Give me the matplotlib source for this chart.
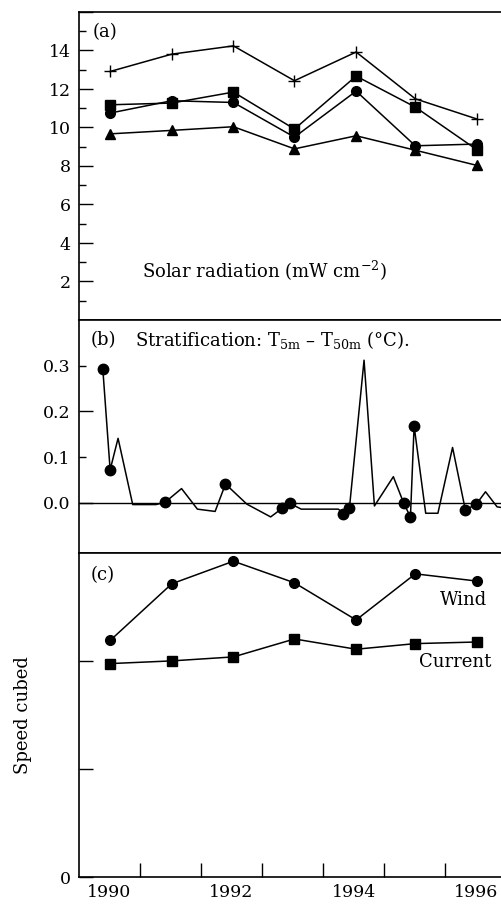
import matplotlib
matplotlib.use("Agg")
import matplotlib.pyplot as plt

plt.rcParams['font.family'] = ['DejaVu Serif']
plt.rcParams['mathtext.fontset'] = 'dejavuserif'
plt.rcParams['font.size'] = 13

# Annual means, plotted at mid-year
years = [1990.51, 1991.52, 1992.53, 1993.53, 1994.54, 1995.51, 1996.52]

# (a) solar radiation, four series
solar_plus = [12.91, 13.81, 14.24, 12.43, 13.92, 11.49, 10.44]
solar_square = [11.18, 11.27, 11.84, 9.92, 12.67, 11.06, 8.84]
solar_circle = [10.75, 11.39, 11.30, 9.50, 11.89, 9.05, 9.14]
solar_triangle = [9.67, 9.85, 10.04, 8.89, 9.57, 8.82, 8.03]

# (b) stratification T5m - T50m
strat_x = [1990.39, 1990.51, 1990.64, 1990.88, 1991.26, 1991.41, 1991.68, 1991.94,
           1992.23, 1992.40, 1992.75, 1993.14, 1993.33, 1993.45, 1993.64, 1994.25,
           1994.33, 1994.43, 1994.67, 1994.84, 1995.15, 1995.32, 1995.43, 1995.49,
           1995.68, 1995.88, 1996.12, 1996.33, 1996.51, 1996.66, 1996.85, 1996.95]
strat_y = [0.293, 0.072, 0.141, -0.004, -0.004, 0.001, 0.031, -0.014,
           -0.019, 0.041, -0.003, -0.031, -0.012, -0.001, -0.014, -0.014,
           -0.024, -0.012, 0.312, -0.007, 0.057, -0.001, -0.031, 0.168,
           -0.023, -0.023, 0.121, -0.016, -0.003, 0.024, -0.009, -0.011]
strat_dots = [0, 1, 5, 9, 12, 13, 16, 17, 21, 22, 23, 27, 28]

# (c) speed cubed
wind = [2.19, 2.715, 2.924, 2.724, 2.38, 2.807, 2.74]
current = [1.976, 2.001, 2.038, 2.204, 2.109, 2.161, 2.176]

xtick_labels = ['1990', '1992', '1994', '1996']

fig = plt.figure(figsize=(5.02, 9.05), dpi=100)
W, H = 502, 905
left = 79 / W
width = 1 - left


def add_panel(top_px, bottom_px):
    ax = fig.add_axes([left, 1 - bottom_px / H, width, (bottom_px - top_px) / H])
    ax.set_xlim(1990, 1996.93)
    ax.spines['right'].set_visible(False)
    for s in ax.spines.values():
        s.set_linewidth(1.2)
    ax.tick_params(axis='both', which='both', direction='in', width=1.0,
                   labelsize=12.5)
    ax.tick_params(axis='y', which='both', pad=6)
    ax.tick_params(axis='y', which='major', length=10)
    ax.tick_params(axis='y', which='minor', length=5)
    return ax


ax_a = add_panel(12, 320)
ax_b = add_panel(320, 553)
ax_c = add_panel(553, 877)

line_kw = dict(color='black', lw=1.1)

# panel (a)
ax_a.plot(years, solar_plus, marker='+', ms=8.5, mew=1.0, **line_kw)
ax_a.plot(years, solar_square, marker='s', ms=6.5, **line_kw)
ax_a.plot(years, solar_circle, marker='o', ms=7, **line_kw)
ax_a.plot(years, solar_triangle, marker='^', ms=7, **line_kw)
ax_a.set_ylim(0, 16)
ax_a.set_yticks(range(0, 17, 2))
ax_a.set_yticklabels([''] + [str(v) for v in range(2, 15, 2)] + [''])
ax_a.set_yticks(range(1, 16, 2), minor=True)
ax_a.set_xticks([])
ax_a.text(0.033, 0.935, '(a)', transform=ax_a.transAxes, va='center', ha='left')
ax_a.text(0.149, 0.159, r'Solar radiation (mW cm$^{-2}$)', transform=ax_a.transAxes,
          va='center', ha='left')

# panel (b)
ax_b.axhline(0, color='black', lw=1.0)
ax_b.plot(strat_x, strat_y, **line_kw)
ax_b.plot([strat_x[i] for i in strat_dots], [strat_y[i] for i in strat_dots],
          'o', color='black', ms=7.5, ls='none')
ax_b.set_ylim(-0.11, 0.40)
ax_b.set_yticks([0.0, 0.2])
ax_b.set_yticklabels(['0.0', '0.2'])
ax_b.set_yticks([0.1, 0.3], minor=True)
ax_b.set_yticklabels(['0.1', '0.3'], minor=True)
ax_b.set_xticks([])
ax_b.text(0.028, 0.914, '(b)', transform=ax_b.transAxes, va='center', ha='left')
ax_b.text(0.132, 0.914, r'Stratification: T$_{\rm 5m}$ – T$_{\rm 50m}$ (°C).',
          transform=ax_b.transAxes, va='center', ha='left')

# panel (c)
ax_c.plot(years, wind, marker='o', ms=7, **line_kw)
ax_c.plot(years, current, marker='s', ms=6.5, **line_kw)
ax_c.set_ylim(0, 3)
ax_c.set_yticks([0, 1, 2])
ax_c.set_yticklabels(['0', '', ''])
ax_c.set_xticks(range(1991, 1997))
ax_c.set_xticklabels([])
ax_c.set_xticks([1990.5, 1992.5, 1994.5, 1996.5], minor=True)
ax_c.set_xticklabels(xtick_labels, minor=True)
ax_c.tick_params(axis='x', which='major', length=10)
ax_c.tick_params(axis='x', which='minor', length=0, pad=5)
ax_c.set_ylabel('Speed cubed', labelpad=20)
ax_c.text(0.028, 0.932, '(c)', transform=ax_c.transAxes, va='center', ha='left')
ax_c.text(0.965, 0.855, 'Wind', transform=ax_c.transAxes, va='center', ha='right')
ax_c.text(0.975, 0.664, 'Current', transform=ax_c.transAxes, va='center', ha='right')

fig.savefig('out.png', dpi=100)
